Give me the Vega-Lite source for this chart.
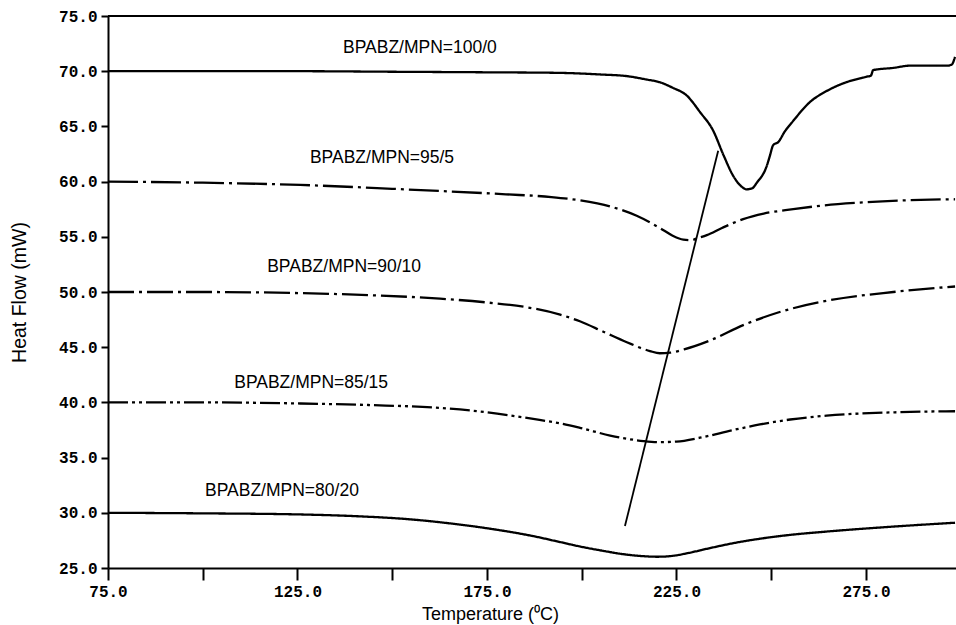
{
  "$schema": "https://vega.github.io/schema/vega-lite/v6.json",
  "width": 848,
  "height": 552,
  "autosize": {"type": "none"},
  "padding": {"left": 108, "top": 16, "right": 0, "bottom": 57},
  "background": "white",
  "config": {
    "view": {"stroke": null},
    "axis": {"grid": false, "domainColor": "black", "domainWidth": 2, "tickColor": "black", "tickWidth": 2, "labelColor": "black", "titleColor": "black", "labelFont": "Liberation Mono", "labelFontWeight": "bold", "labelFontSize": 16, "titleFont": "Liberation Sans", "titleFontSize": 18, "titleFontWeight": "normal"}
  },
  "datasets": {
    "curves": [
      {"series": "100/0", "T": 75, "HF": 70.0}, {"series": "100/0", "T": 100, "HF": 70.0}, {"series": "100/0", "T": 125, "HF": 70.0}, {"series": "100/0", "T": 150, "HF": 69.95}, {"series": "100/0", "T": 175, "HF": 69.9}, {"series": "100/0", "T": 194, "HF": 69.85}, {"series": "100/0", "T": 205, "HF": 69.7}, {"series": "100/0", "T": 212, "HF": 69.55}, {"series": "100/0", "T": 217, "HF": 69.25}, {"series": "100/0", "T": 220.6, "HF": 69.0}, {"series": "100/0", "T": 224, "HF": 68.5}, {"series": "100/0", "T": 227.7, "HF": 67.8}, {"series": "100/0", "T": 231.2, "HF": 66.3}, {"series": "100/0", "T": 234.7, "HF": 64.6}, {"series": "100/0", "T": 237.4, "HF": 62.4}, {"series": "100/0", "T": 240, "HF": 60.5}, {"series": "100/0", "T": 242, "HF": 59.6}, {"series": "100/0", "T": 243.5, "HF": 59.3}, {"series": "100/0", "T": 245, "HF": 59.4}, {"series": "100/0", "T": 246.2, "HF": 59.9}, {"series": "100/0", "T": 248.8, "HF": 61.4}, {"series": "100/0", "T": 249.7, "HF": 62.4}, {"series": "100/0", "T": 250.5, "HF": 63.3}, {"series": "100/0", "T": 251.9, "HF": 63.6}, {"series": "100/0", "T": 253.5, "HF": 64.5}, {"series": "100/0", "T": 255.8, "HF": 65.5}, {"series": "100/0", "T": 260.2, "HF": 67.2}, {"series": "100/0", "T": 264.6, "HF": 68.2}, {"series": "100/0", "T": 269, "HF": 68.9}, {"series": "100/0", "T": 275.2, "HF": 69.5}, {"series": "100/0", "T": 276.3, "HF": 69.6}, {"series": "100/0", "T": 276.9, "HF": 70.1}, {"series": "100/0", "T": 282.2, "HF": 70.3}, {"series": "100/0", "T": 286.6, "HF": 70.5}, {"series": "100/0", "T": 296.3, "HF": 70.5}, {"series": "100/0", "T": 297.6, "HF": 70.6}, {"series": "100/0", "T": 298.5, "HF": 71.3},
      {"series": "95/5", "T": 75, "HF": 60.0}, {"series": "95/5", "T": 100, "HF": 59.9}, {"series": "95/5", "T": 125.7, "HF": 59.7}, {"series": "95/5", "T": 150, "HF": 59.35}, {"series": "95/5", "T": 162.6, "HF": 59.15}, {"series": "95/5", "T": 180, "HF": 58.85}, {"series": "95/5", "T": 192, "HF": 58.6}, {"series": "95/5", "T": 199.5, "HF": 58.3}, {"series": "95/5", "T": 207.5, "HF": 57.75}, {"series": "95/5", "T": 214.5, "HF": 56.9}, {"series": "95/5", "T": 220.6, "HF": 55.8}, {"series": "95/5", "T": 224, "HF": 55.1}, {"series": "95/5", "T": 226.8, "HF": 54.75}, {"series": "95/5", "T": 229, "HF": 54.7}, {"series": "95/5", "T": 230.3, "HF": 54.85}, {"series": "95/5", "T": 233, "HF": 55.15}, {"series": "95/5", "T": 237, "HF": 55.8}, {"series": "95/5", "T": 242.6, "HF": 56.6}, {"series": "95/5", "T": 248, "HF": 57.1}, {"series": "95/5", "T": 255.8, "HF": 57.5}, {"series": "95/5", "T": 264, "HF": 57.85}, {"series": "95/5", "T": 273.4, "HF": 58.1}, {"series": "95/5", "T": 285, "HF": 58.3}, {"series": "95/5", "T": 298.5, "HF": 58.4},
      {"series": "90/10", "T": 75, "HF": 50.0}, {"series": "90/10", "T": 100, "HF": 50.0}, {"series": "90/10", "T": 125.7, "HF": 49.9}, {"series": "90/10", "T": 145, "HF": 49.7}, {"series": "90/10", "T": 162.6, "HF": 49.4}, {"series": "90/10", "T": 175, "HF": 49.05}, {"series": "90/10", "T": 185, "HF": 48.65}, {"series": "90/10", "T": 194.3, "HF": 47.95}, {"series": "90/10", "T": 199.5, "HF": 47.35}, {"series": "90/10", "T": 205.7, "HF": 46.4}, {"series": "90/10", "T": 211.9, "HF": 45.45}, {"series": "90/10", "T": 218, "HF": 44.65}, {"series": "90/10", "T": 220.6, "HF": 44.45}, {"series": "90/10", "T": 223.3, "HF": 44.5}, {"series": "90/10", "T": 227, "HF": 44.8}, {"series": "90/10", "T": 233.8, "HF": 45.6}, {"series": "90/10", "T": 242.6, "HF": 47.0}, {"series": "90/10", "T": 251.4, "HF": 48.1}, {"series": "90/10", "T": 264.6, "HF": 49.2}, {"series": "90/10", "T": 282.2, "HF": 50.0}, {"series": "90/10", "T": 298.5, "HF": 50.5},
      {"series": "85/15", "T": 75, "HF": 40.0}, {"series": "85/15", "T": 100, "HF": 40.0}, {"series": "85/15", "T": 125.7, "HF": 39.9}, {"series": "85/15", "T": 145, "HF": 39.75}, {"series": "85/15", "T": 162.6, "HF": 39.5}, {"series": "85/15", "T": 175, "HF": 39.1}, {"series": "85/15", "T": 187.2, "HF": 38.5}, {"series": "85/15", "T": 194.3, "HF": 38.1}, {"series": "85/15", "T": 199.5, "HF": 37.7}, {"series": "85/15", "T": 207.5, "HF": 37.0}, {"series": "85/15", "T": 216.3, "HF": 36.5}, {"series": "85/15", "T": 220.6, "HF": 36.4}, {"series": "85/15", "T": 225, "HF": 36.45}, {"series": "85/15", "T": 231.2, "HF": 36.8}, {"series": "85/15", "T": 240, "HF": 37.5}, {"series": "85/15", "T": 247, "HF": 38.0}, {"series": "85/15", "T": 255, "HF": 38.45}, {"series": "85/15", "T": 264.6, "HF": 38.8}, {"series": "85/15", "T": 282.2, "HF": 39.1}, {"series": "85/15", "T": 298.5, "HF": 39.2},
      {"series": "80/20", "T": 75, "HF": 30.0}, {"series": "80/20", "T": 100, "HF": 29.95}, {"series": "80/20", "T": 125.7, "HF": 29.85}, {"series": "80/20", "T": 140, "HF": 29.7}, {"series": "80/20", "T": 155, "HF": 29.4}, {"series": "80/20", "T": 165, "HF": 29.05}, {"series": "80/20", "T": 175, "HF": 28.6}, {"series": "80/20", "T": 187, "HF": 27.9}, {"series": "80/20", "T": 194.3, "HF": 27.35}, {"series": "80/20", "T": 199.5, "HF": 26.95}, {"series": "80/20", "T": 205.7, "HF": 26.55}, {"series": "80/20", "T": 211, "HF": 26.25}, {"series": "80/20", "T": 216.3, "HF": 26.07}, {"series": "80/20", "T": 220, "HF": 26.02}, {"series": "80/20", "T": 224, "HF": 26.1}, {"series": "80/20", "T": 228, "HF": 26.35}, {"series": "80/20", "T": 233.8, "HF": 26.8}, {"series": "80/20", "T": 240, "HF": 27.25}, {"series": "80/20", "T": 247, "HF": 27.65}, {"series": "80/20", "T": 255, "HF": 28.0}, {"series": "80/20", "T": 264.6, "HF": 28.3}, {"series": "80/20", "T": 282.2, "HF": 28.75}, {"series": "80/20", "T": 298.5, "HF": 29.1}
    ],
    "peakline": [{"T": 211.4, "HF": 28.8}, {"T": 236.0, "HF": 62.8}],
    "labels": [
      {"label": "BPABZ/MPN=100/0", "T": 157.3, "HF": 72.1},
      {"label": "BPABZ/MPN=95/5", "T": 147.3, "HF": 62.1},
      {"label": "BPABZ/MPN=90/10", "T": 137.3, "HF": 52.3},
      {"label": "BPABZ/MPN=85/15", "T": 128.6, "HF": 41.8},
      {"label": "BPABZ/MPN=80/20", "T": 120.9, "HF": 32.0}
    ],
    "top": [{"HF": 75}]
  },
  "layer": [
    {
      "data": {"name": "curves"},
      "mark": {"type": "line", "color": "black", "strokeWidth": 2.3, "interpolate": "monotone", "clip": true},
      "encoding": {
        "x": {"field": "T", "type": "quantitative", "scale": {"domain": [75, 298.75], "nice": false, "zero": false},
          "axis": {"values": [75, 100, 125, 150, 175, 200, 225, 250, 275], "labelExpr": "(datum.value - 75) % 50 == 0 ? format(datum.value, '.1f') : ''", "tickSize": 12, "labelPadding": 3, "labelFlush": false, "title": "Temperature (⁰C)", "titleX": 382, "titleY": 46, "titleBaseline": "middle", "titleAnchor": "middle", "titleAlign": "center"}},
        "y": {"field": "HF", "type": "quantitative", "scale": {"domain": [25, 75], "nice": false, "zero": false},
          "axis": {"values": [25, 30, 35, 40, 45, 50, 55, 60, 65, 70, 75], "format": ".1f", "tickSize": 7, "labelPadding": 4, "labelFlush": false, "title": "Heat Flow (mW)", "titleFontSize": 19.5, "titleX": -89, "titleY": 276, "titleBaseline": "middle", "titleAlign": "center"}},
        "detail": {"field": "series", "type": "nominal"},
        "strokeDash": {"field": "series", "type": "nominal", "legend": null,
          "scale": {"domain": ["100/0", "95/5", "90/10", "85/15", "80/20"], "range": [[1, 0], [30, 5, 3, 5], [26, 5, 3, 5], [20, 4, 3, 4, 3, 4], [1, 0]]}}
      }
    },
    {
      "data": {"name": "peakline"},
      "mark": {"type": "line", "color": "black", "strokeWidth": 1.8},
      "encoding": {"x": {"field": "T", "type": "quantitative"}, "y": {"field": "HF", "type": "quantitative"}}
    },
    {
      "data": {"name": "labels"},
      "mark": {"type": "text", "font": "Liberation Sans", "fontSize": 17.5, "color": "black", "align": "center", "baseline": "middle"},
      "encoding": {"x": {"field": "T", "type": "quantitative"}, "y": {"field": "HF", "type": "quantitative"}, "text": {"field": "label"}}
    },
    {
      "data": {"name": "top"},
      "mark": {"type": "rule", "color": "black", "strokeWidth": 2},
      "encoding": {"y": {"field": "HF", "type": "quantitative"}}
    }
  ]
}
